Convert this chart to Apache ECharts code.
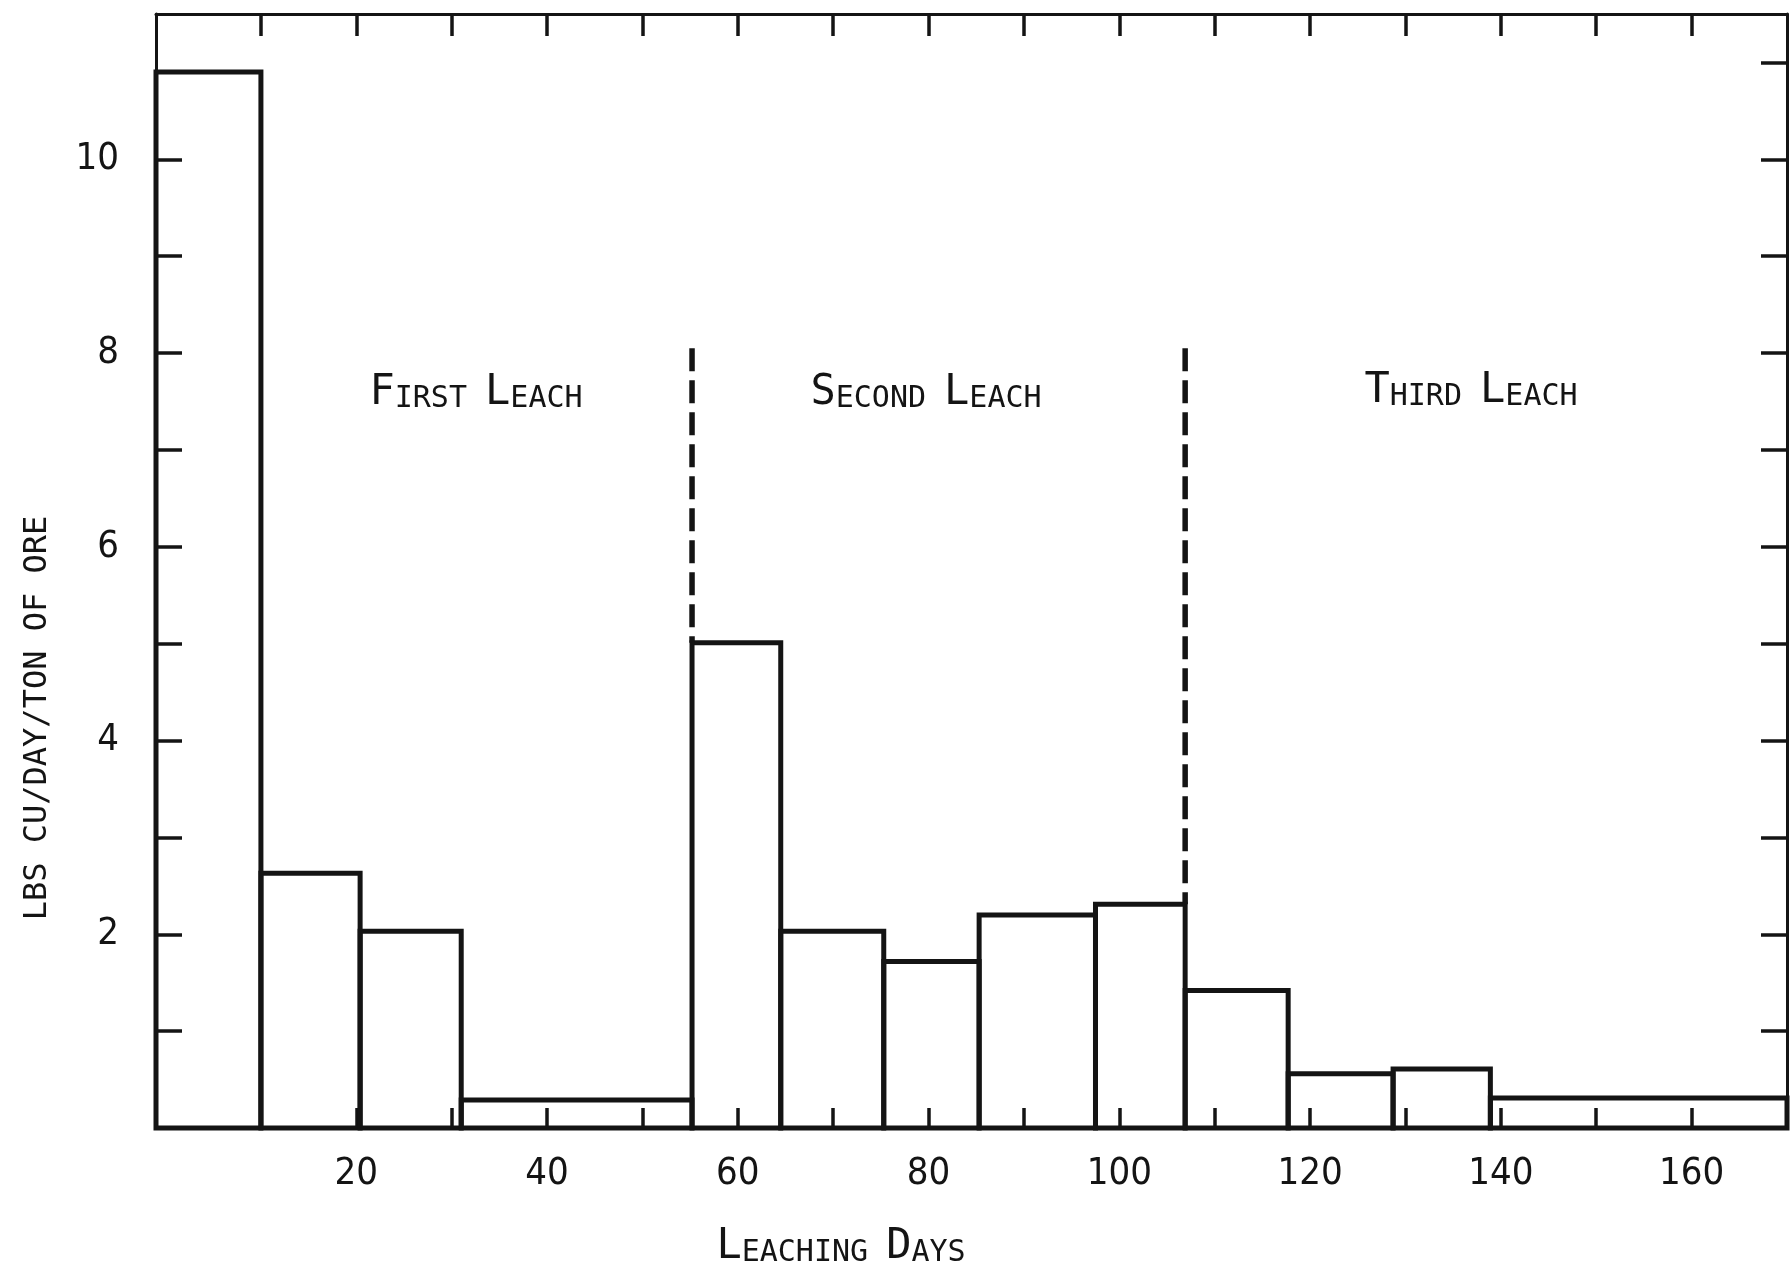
<!DOCTYPE html>
<html>
<head>
<meta charset="utf-8">
<script src="https://cdn.jsdelivr.net/npm/echarts@6/dist/echarts.min.js"></script>
<style>
  html, body { margin: 0; background: #fff; }
  #chart { width: 1790px; height: 1265px; }
</style>
</head>
<body>
<div id="chart"></div>
<script>
// histogram bins (leaching days); first bin starts right on the axis
const binStart = [-1, 10, 20.4, 31, 55.2, 64.5, 75.3, 85.3, 97.5, 106.9, 117.7, 128.7, 138.9];
const binEnd = [10, 20.4, 31, 55.2, 64.5, 75.3, 85.3, 97.5, 106.9, 117.7, 128.7, 138.9, 170];
// lbs Cu / day / ton of ore
const rate = [10.9, 2.63, 2.03, 0.29, 5.01, 2.03, 1.72, 2.2, 2.31, 1.42, 0.56, 0.61, 0.31];

// dashed separators between leach periods
const breakDay = [55.2, 106.9];
const breakTop = [8.05, 8.05];
const breakBottom = [5.01, 2.31];

const leachNames = ["First Leach", "Second Leach", "Third Leach"];
const xTickDays = [10, 20, 30, 40, 50, 60, 70, 80, 90, 100, 110, 120, 130, 140, 150, 160];
const xLabelDays = [20, 40, 60, 80, 100, 120, 140, 160];
const yTicksLeft = [1, 2, 3, 4, 5, 6, 7, 8, 9, 10];
const yTicksRight = [1, 2, 3, 4, 5, 6, 7, 8, 9, 10, 11];
const yLabelValues = [2, 4, 6, 8, 10];

const ink = "#141414";
const mono = "'DejaVu Sans Mono', monospace";
const narrow = "'Liberation Sans Narrow', 'DejaVu Sans Condensed', sans-serif";

// small caps: first letter of every word big, the rest smaller
function smallCaps(s) {
  return s.split(" ").map((w) =>
    `{b|${w[0].toUpperCase()}}{s|${w.slice(1).toUpperCase()}}`
  ).join("{s| }");
}
const capsRich = {
  b: { fontSize: 42, lineHeight: 42, fontFamily: mono, verticalAlign: "bottom" },
  s: { fontSize: 30, lineHeight: 30, fontFamily: mono, verticalAlign: "bottom" },
};

const chart = echarts.init(document.getElementById("chart"));

const xCommon = {
  type: "value",
  min: -1,
  max: 170,
  splitLine: { show: false },
  axisLine: { show: true, onZero: false, lineStyle: { color: ink, width: 3 } },
};
const yCommon = {
  type: "value",
  min: 0,
  max: 11.5,
  interval: 1,
  splitLine: { show: false },
  axisLine: { show: true, onZero: false, lineStyle: { color: ink, width: 3 } },
};

const option = {
  backgroundColor: "#fff",
  animation: false,
  grid: { left: 156, right: 3, top: 14, bottom: 137 },
  xAxis: [
    Object.assign({}, xCommon, {
      position: "bottom",
      axisTick: { show: true, inside: true, length: 20, customValues: xTickDays, lineStyle: { color: ink, width: 3.5 } },
      axisLabel: {
        margin: 27,
        color: ink,
        fontSize: 38,
        fontFamily: narrow,
        customValues: xLabelDays,
      },
    }),
    Object.assign({}, xCommon, {
      position: "top",
      axisTick: { show: true, inside: true, length: 22, customValues: xTickDays, lineStyle: { color: ink, width: 3.5 } },
      axisLabel: { show: false },
    }),
  ],
  yAxis: [
    Object.assign({}, yCommon, {
      position: "left",
      axisTick: { show: true, inside: true, length: 26, customValues: yTicksLeft, lineStyle: { color: ink, width: 3.5 } },
      axisLabel: {
        margin: 37,
        color: ink,
        fontSize: 38,
        fontFamily: narrow,
        customValues: yLabelValues,
      },
    }),
    Object.assign({}, yCommon, {
      position: "right",
      axisTick: { show: true, inside: true, length: 26, customValues: yTicksRight, lineStyle: { color: ink, width: 3.5 } },
      axisLabel: { show: false },
    }),
  ],
  series: [
    {
      type: "custom",
      xAxisIndex: 0,
      yAxisIndex: 0,
      data: binStart.map((s, i) => [s, binEnd[i], rate[i]]),
      encode: { x: [0, 1], y: 2 },
      renderItem: (params, api) => {
        const p0 = api.coord([api.value(0), 0]);
        const p1 = api.coord([api.value(1), api.value(2)]);
        return {
          type: "rect",
          shape: { x: p0[0], y: p1[1], width: p1[0] - p0[0], height: p0[1] - p1[1] },
          style: { fill: "none", stroke: ink, lineWidth: 5 },
        };
      },
    },
    ...breakDay.map((d, i) => ({
      type: "line",
      xAxisIndex: 0,
      yAxisIndex: 0,
      symbol: "none",
      data: [[d, breakTop[i]], [d, breakBottom[i]]],
      lineStyle: { color: ink, width: 5.5, type: [23, 9] },
    })),
  ],
  graphic: [
    { type: "text", x: 476, y: 393, style: { text: smallCaps(leachNames[0]), rich: capsRich, fill: ink, align: "center", verticalAlign: "middle" } },
    { type: "text", x: 926, y: 393, style: { text: smallCaps(leachNames[1]), rich: capsRich, fill: ink, align: "center", verticalAlign: "middle" } },
    { type: "text", x: 1471, y: 391, style: { text: smallCaps(leachNames[2]), rich: capsRich, fill: ink, align: "center", verticalAlign: "middle" } },
    { type: "text", x: 841, y: 1247, style: { text: smallCaps("Leaching Days"), rich: capsRich, fill: ink, align: "center", verticalAlign: "middle" } },
    {
      type: "text", x: 38, y: 718, rotation: Math.PI / 2,
      style: { text: "LBS CU/DAY/TON OF ORE", font: "32px " + mono, fill: ink, align: "center", verticalAlign: "middle" },
    },
  ],
};

chart.setOption(option);
</script>
</body>
</html>
